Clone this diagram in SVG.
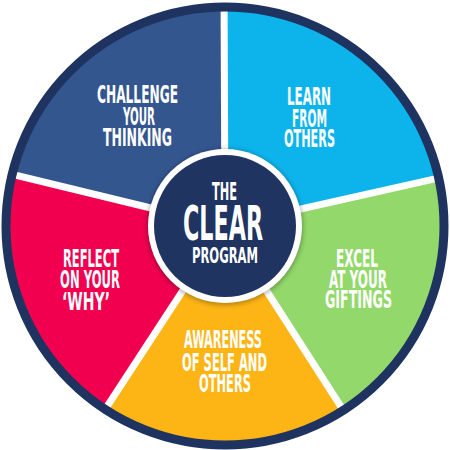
<svg xmlns="http://www.w3.org/2000/svg" width="450" height="450" viewBox="0 0 450 450">
<defs>
<clipPath id="disc"><circle cx="225" cy="226" r="216"/></clipPath>
<filter id="sh" x="-20%" y="-20%" width="140%" height="140%"><feGaussianBlur stdDeviation="2.5"/></filter>
<style>
.lbl{font-family:"Liberation Sans Narrow","DejaVu Sans Condensed","Liberation Sans",sans-serif;font-weight:bold;fill:#ffffff;text-anchor:middle;font-size:24px}
.div{stroke:#ffffff;stroke-width:7;fill:none}
</style>
</defs>
<g clip-path="url(#disc)">
<g id="challenge"><polygon points="225,226 -90,149.5 -90,-10 224,-10" fill="#34568f"/></g>
<g id="learn"><polygon points="225,226 224,-10 540,-10 532.5,157" fill="#0db4ec"/></g>
<g id="excel"><polygon points="225,226 532.5,157 540,490 394.5,490" fill="#92d86a"/></g>
<g id="awareness"><polygon points="225,226 394.5,490 52.5,490" fill="#fdb516"/></g>
<g id="reflect"><polygon points="225,226 52.5,490 -90,490 -90,149.5" fill="#f0004f"/></g>
</g>
<g id="connectors">
<line class="div" x1="225" y1="226" x2="224" y2="-10"/>
<line class="div" x1="225" y1="226" x2="532.5" y2="157"/>
<line class="div" x1="225" y1="226" x2="394.5" y2="490"/>
<line class="div" x1="225" y1="226" x2="52.5" y2="490"/>
<line class="div" x1="225" y1="226" x2="-90" y2="149.5"/>
</g>
<circle cx="225" cy="226" r="219" fill="none" stroke="#1f3360" stroke-width="9"/>
<g id="center">
<circle cx="225" cy="227" r="78" fill="#000" opacity="0.3" filter="url(#sh)"/>
<circle cx="225" cy="226" r="77" fill="#ffffff"/>
<circle cx="225" cy="226" r="71" fill="#1f3461"/>
<text class="lbl" x="224.5" y="200" font-size="25" textLength="25" lengthAdjust="spacingAndGlyphs">THE</text>
<text class="lbl" x="223" y="240" style="font-size:48px" textLength="80" lengthAdjust="spacingAndGlyphs">CLEAR</text>
<text class="lbl" x="225" y="263" style="font-size:22px" textLength="66" lengthAdjust="spacingAndGlyphs">PROGRAM</text>
</g>
<g id="challenge-text">
<text class="lbl" x="137.5" y="103" textLength="81" lengthAdjust="spacingAndGlyphs">CHALLENGE</text>
<text class="lbl" x="139" y="125" textLength="32" lengthAdjust="spacingAndGlyphs">YOUR</text>
<text class="lbl" x="137.5" y="146" textLength="69" lengthAdjust="spacingAndGlyphs">THINKING</text>
</g>
<g id="learn-text">
<text class="lbl" x="309" y="105" textLength="44" lengthAdjust="spacingAndGlyphs">LEARN</text>
<text class="lbl" x="309.5" y="127" textLength="35" lengthAdjust="spacingAndGlyphs">FROM</text>
<text class="lbl" x="309.5" y="147" textLength="51" lengthAdjust="spacingAndGlyphs">OTHERS</text>
</g>
<g id="excel-text">
<text class="lbl" x="357" y="267" textLength="42" lengthAdjust="spacingAndGlyphs">EXCEL</text>
<text class="lbl" x="358" y="288" textLength="58" lengthAdjust="spacingAndGlyphs">AT YOUR</text>
<text class="lbl" x="358.5" y="308" textLength="67" lengthAdjust="spacingAndGlyphs">GIFTINGS</text>
</g>
<g id="awareness-text">
<text class="lbl" x="223" y="348" textLength="78" lengthAdjust="spacingAndGlyphs">AWARENESS</text>
<text class="lbl" x="224.5" y="371" textLength="85" lengthAdjust="spacingAndGlyphs">OF SELF AND</text>
<text class="lbl" x="225" y="392" textLength="52" lengthAdjust="spacingAndGlyphs">OTHERS</text>
</g>
<g id="reflect-text">
<text class="lbl" x="91" y="267" textLength="56" lengthAdjust="spacingAndGlyphs">REFLECT</text>
<text class="lbl" x="90" y="288" textLength="60" lengthAdjust="spacingAndGlyphs">ON YOUR</text>
<text class="lbl" x="86" y="310" textLength="48" lengthAdjust="spacingAndGlyphs">‘WHY’</text>
</g>
</svg>
